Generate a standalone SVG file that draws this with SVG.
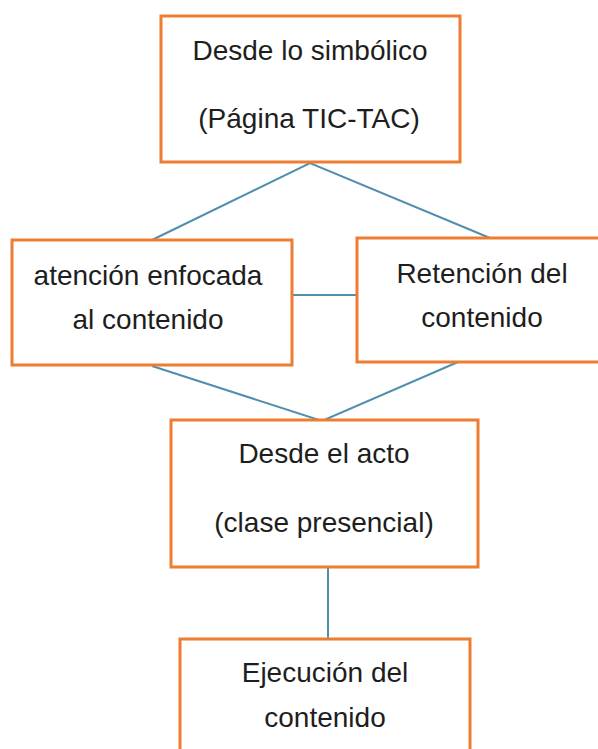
<svg xmlns="http://www.w3.org/2000/svg" width="598" height="749" viewBox="0 0 598 749">
<style>
.box{fill:#fff;stroke:#ED7D31;stroke-width:3}
.t{font-family:"Liberation Sans",Arial,sans-serif;font-size:28px;fill:#1e1e1e;text-anchor:middle}
.c{stroke:#4F8FAD;stroke-width:2;fill:none}
</style>
<rect width="598" height="749" fill="#fff"/>
<g id="connectors">
<polyline class="c" points="152,240 310,163 490,238"/>
<line class="c" x1="292" y1="295" x2="357" y2="295"/>
<polyline class="c" points="152,366 322,421 458,362"/>
<line class="c" x1="328" y1="567" x2="328" y2="639"/>
</g>
<g id="simbolico">
<rect class="box" x="161" y="16" width="299" height="146"/>
<text class="t" x="310" y="60">Desde lo simbólico</text>
<text class="t" x="309" y="128">(Página TIC-TAC)</text>
</g>
<g id="atencion">
<rect class="box" x="12" y="240" width="280" height="125"/>
<text class="t" x="148" y="285">atención enfocada</text>
<text class="t" x="148" y="329">al contenido</text>
</g>
<g id="retencion">
<rect class="box" x="357" y="238" width="250" height="124"/>
<text class="t" x="482" y="283">Retención del</text>
<text class="t" x="482" y="327">contenido</text>
</g>
<g id="acto">
<rect class="box" x="171" y="420" width="307" height="147"/>
<text class="t" x="324" y="463">Desde el acto</text>
<text class="t" x="324" y="532">(clase presencial)</text>
</g>
<g id="ejecucion">
<rect class="box" x="180" y="639" width="290" height="130"/>
<text class="t" x="325" y="682">Ejecución del</text>
<text class="t" x="325" y="727">contenido</text>
</g>
</svg>
